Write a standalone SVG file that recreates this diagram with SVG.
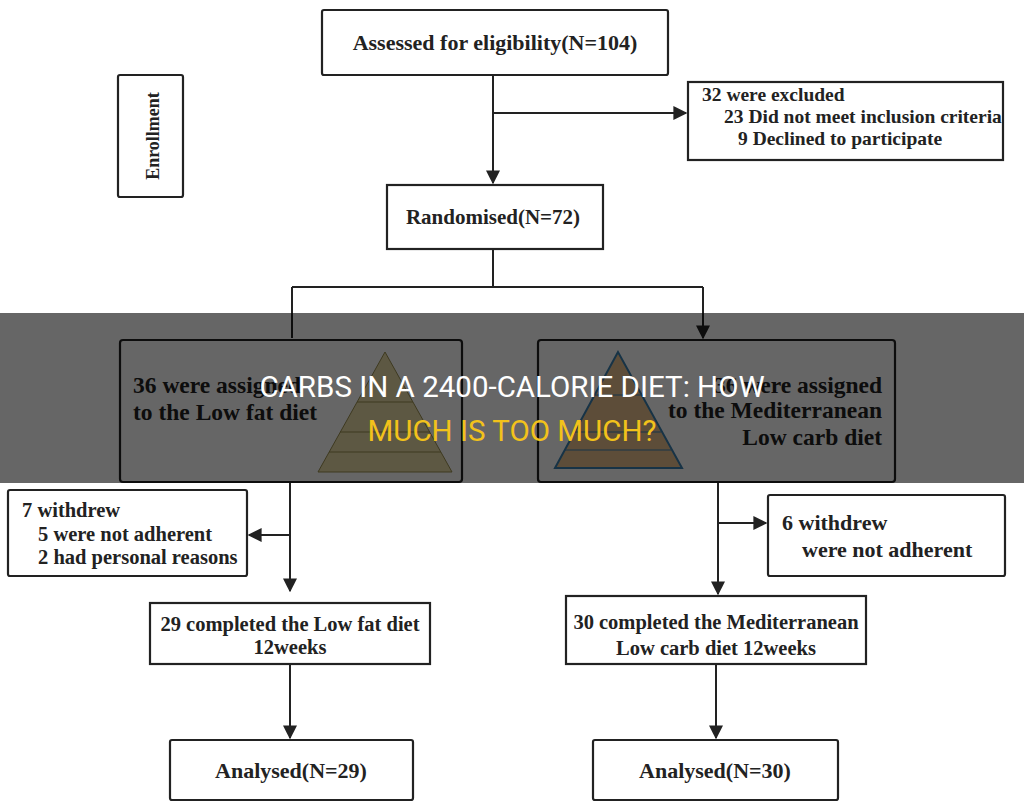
<svg xmlns="http://www.w3.org/2000/svg" width="1024" height="804" viewBox="0 0 1024 804">
<defs>
<style>
.b{fill:#fff;stroke:#222;stroke-width:2.2}
.t{font-family:"Liberation Serif",serif;font-weight:bold;font-size:20.5px;fill:#222}
.c{stroke:#222;stroke-width:2;fill:none}
</style>
<marker id="a" viewBox="0 0 10 10" refX="9" refY="5" markerWidth="7" markerHeight="7" orient="auto"><path d="M0,0L10,5L0,10z" fill="#222"/></marker>
</defs>
<rect width="1024" height="804" fill="#fff"/>
<g id="connectors">
<path class="c" d="M493,75V183" marker-end="url(#a)"/>
<path class="c" d="M493,113H686" marker-end="url(#a)"/>
<path class="c" d="M493,249V287M292,287H703M292,287V338M703,287V338" marker-end="url(#a)"/>
<path class="c" d="M290,482V591" marker-end="url(#a)"/>
<path class="c" d="M290,535H249" marker-end="url(#a)"/>
<path class="c" d="M718,482V594" marker-end="url(#a)"/>
<path class="c" d="M718,523H766" marker-end="url(#a)"/>
<path class="c" d="M290,664V738" marker-end="url(#a)"/>
<path class="c" d="M716,664V738" marker-end="url(#a)"/>
</g>
<g id="assessed"><rect class="b" x="322" y="10" width="346" height="65" rx="2"/><text class="t" x="495" y="50" text-anchor="middle" style="font-size:22px">Assessed for eligibility(N=104)</text></g>
<g id="enrollment"><rect class="b" x="118" y="75" width="65" height="122" rx="2"/><text class="t" transform="translate(159,136) rotate(-90)" text-anchor="middle" style="font-size:18px">Enrollment</text></g>
<g id="excluded"><rect class="b" x="688" y="82" width="315" height="78"/><text class="t" x="702" y="101" style="font-size:19.5px">32 were excluded</text><text class="t" x="724" y="123" style="font-size:19.5px">23 Did not meet inclusion criteria</text><text class="t" x="738" y="145" style="font-size:19.5px">9 Declined to participate</text></g>
<g id="randomised"><rect class="b" x="387" y="185" width="216" height="64"/><text class="t" x="493" y="224" text-anchor="middle" style="font-size:21px">Randomised(N=72)</text></g>
<g id="lowfat"><rect class="b" x="120" y="340" width="342" height="142" rx="3"/>
<polygon points="385,352 318,472 452,472" fill="#e8dca8" stroke="#9a8f50"/>
<path d="M357,402H413M340,432H430M329,452H441" stroke="#9a8f50"/>
<text class="t" x="133" y="393" style="font-size:23.5px">36 were assigned</text><text class="t" x="133" y="420" style="font-size:23.5px">to the Low fat diet</text></g>
<g id="medit"><rect class="b" x="538" y="340" width="357" height="142" rx="3"/>
<polygon points="618,352 555,468 682,468" fill="#e8c090" stroke="#3a80b0" stroke-width="2"/>
<path d="M595,395H641M575,432H661M565,450H671" stroke="#3a80b0"/>
<text class="t" x="882" y="393" style="font-size:23.5px" text-anchor="end">36 were assigned</text><text class="t" x="882" y="418" style="font-size:23.5px" text-anchor="end">to the Mediterranean</text><text class="t" x="882" y="445" style="font-size:23.5px" text-anchor="end">Low carb diet</text></g>
<g id="withdrew1"><rect class="b" x="8" y="490" width="239" height="86" rx="2"/><text class="t" x="22" y="517">7 withdrew</text><text class="t" x="38" y="541">5 were not adherent</text><text class="t" x="38" y="564">2 had personal reasons</text></g>
<g id="withdrew2"><rect class="b" x="768" y="495" width="237" height="81" rx="2"/><text class="t" x="782" y="530" style="font-size:22px">6 withdrew</text><text class="t" x="802" y="557" style="font-size:22px">were not adherent</text></g>
<g id="completed1"><rect class="b" x="150" y="603" width="280" height="61"/><text class="t" x="290" y="631" text-anchor="middle">29 completed the Low fat diet</text><text class="t" x="290" y="654" text-anchor="middle">12weeks</text></g>
<g id="completed2"><rect class="b" x="566" y="596" width="300" height="68"/><text class="t" x="716" y="629" text-anchor="middle">30 completed the Mediterranean</text><text class="t" x="716" y="655" text-anchor="middle">Low carb diet 12weeks</text></g>
<g id="analysed1"><rect class="b" x="170" y="740" width="243" height="60" rx="2"/><text class="t" x="291" y="778" text-anchor="middle" style="font-size:22px">Analysed(N=29)</text></g>
<g id="analysed2"><rect class="b" x="593" y="740" width="245" height="60" rx="2"/><text class="t" x="715" y="778" text-anchor="middle" style="font-size:22px">Analysed(N=30)</text></g>
<g id="banner">
<rect x="0" y="313" width="1024" height="170" fill="#000" fill-opacity="0.6"/>
<text x="512" y="397" text-anchor="middle" font-family="Roboto,sans-serif" font-size="29.5" fill="#fff">CARBS IN A 2400-CALORIE DIET: HOW</text>
<text x="512" y="441" text-anchor="middle" font-family="Roboto,sans-serif" font-size="29.5" fill="#f2c21b">MUCH IS TOO MUCH?</text>
</g>
</svg>
